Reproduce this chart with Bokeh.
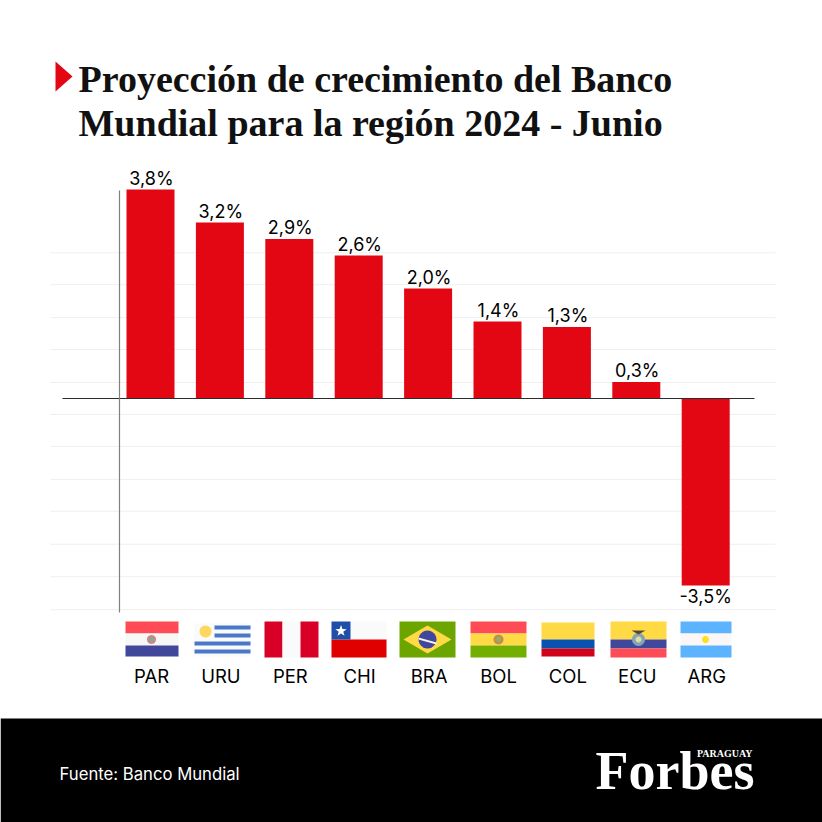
import math
from bokeh.plotting import figure
from bokeh.models import Label, Range1d
from bokeh.embed import file_html
from bokeh.resources import INLINE
from bokeh.core.properties import value

# ---- data ----
countries = ["PAR", "URU", "PER", "CHI", "BRA", "BOL", "COL", "ECU", "ARG"]
growth = [3.8, 3.2, 2.9, 2.6, 2.0, 1.4, 1.3, 0.3, -3.4]
value_labels = ["3,8%", "3,2%", "2,9%", "2,6%", "2,0%", "1,4%", "1,3%", "0,3%", "-3,5%"]
grid_values = [2.65, 2.07, 1.47, 0.89, 0.29, -0.29, -0.87, -1.47, -2.05, -2.65, -3.24, -3.84]
title_lines = ["Proyección de crecimiento del Banco", "Mundial para la región 2024 - Junio"]
source_text = "Fuente: Banco Mundial"

BODY = "Inter"
SERIF = "Liberation Serif"
W = H = 822
OFF = 0
PX_PER_UNIT = 55
PX_PER_CAT = 69.4
ZERO_Y = 398
FIRST_X = 150
BAR_W = 48


def X(px):  # page x -> data x
    return (px - FIRST_X) / PX_PER_CAT


def Y(py):  # page y -> data y
    return (ZERO_Y - py) / PX_PER_UNIT


p = figure(width=W, height=H, output_backend="svg", toolbar_location=None,
           x_range=Range1d(X(OFF), X(OFF + W)), y_range=Range1d(Y(OFF + H), Y(OFF)),
           min_border=0, outline_line_color=None, background_fill_color="white",
           border_fill_color="white")
p.axis.visible = False
p.grid.visible = False


def box(x0, y0, x1, y1, color):
    p.quad(left=X(x0), right=X(x1), top=Y(y0), bottom=Y(y1), fill_color=color, line_color=None)


def poly(pts, color):
    p.patch([X(a) for a, _ in pts], [Y(b) for _, b in pts], fill_color=color, line_color=None)


def dot(cx, cy, r, color):
    pts = [(cx + r * math.cos(t * math.pi / 12), cy + r * math.sin(t * math.pi / 12)) for t in range(24)]
    poly(pts, color)


def screen_text(text, x, y, size, color, font, style="normal", baseline="alphabetic", align="left"):
    p.add_layout(Label(x=x - OFF, y=H - (y - OFF), x_units="screen", y_units="screen", text=text,
                       text_font=font, text_font_size=f"{size}px", text_color=color,
                       text_font_style=style, text_baseline=baseline, text_align=align))


# grid, bars, axes
p.segment(x0=[X(50)] * len(grid_values), x1=[X(775)] * len(grid_values), y0=grid_values, y1=grid_values,
          line_color="#efefef", line_width=1)
idx = list(range(len(countries)))
p.vbar(x=idx, top=growth, bottom=0, width=BAR_W / PX_PER_CAT, fill_color="#e30613", line_color=None)
p.segment(x0=[X(62)], x1=[X(754)], y0=[0], y1=[0], line_color="#2b2b2b", line_width=1.2)
p.segment(x0=[X(119)], x1=[X(119)], y0=[Y(190)], y1=[Y(612)], line_color="#808080", line_width=1.2)

# value labels
pos = [i for i, v in enumerate(growth) if v >= 0]
neg = [i for i, v in enumerate(growth) if v < 0]
p.text(x=pos, y=[growth[i] for i in pos], text=[value_labels[i] for i in pos], text_align="center",
       text_baseline="bottom", y_offset=-1, x_offset=1, text_font=value(BODY), text_font_size="18px",
       text_color="#000000")
p.text(x=neg, y=[growth[i] for i in neg], text=[value_labels[i] for i in neg], text_align="center",
       text_baseline="top", y_offset=0, text_font=value(BODY), text_font_size="18px", text_color="#000000")

# category labels
p.text(x=idx, y=[Y(675)] * len(idx), text=countries, text_align="center", text_baseline="middle", x_offset=1,
       text_font=value(BODY), text_font_size="18.5px", text_color="#000000")

# flags
RED, BLUE, WHITE, YEL, GRN = "#ff4b55", "#41479b", "#f7f7f7", "#ffda44", "#73af00"
# PAR
box(125, 621, 178, 633, RED); box(125, 633, 178, 645, WHITE); box(125, 645, 178, 656, BLUE)
dot(151, 639, 4.5, "#d9808a"); dot(151, 639, 2.5, "#7fae8f")
# URU
box(194, 623, 250, 656, "#fafafa")
for a, b in [(625, 629), (633, 637)]:
    box(214, a, 250, b, "#4a78c8")
for a, b in [(641, 645), (649, 653)]:
    box(194, a, 250, b, "#4a78c8")
dot(205, 631, 6, "#ffd75e")
# PER
box(264, 621, 282, 657, "#d80027"); box(282, 621, 300, 657, "#fafafa"); box(300, 621, 318, 657, "#d80027")
# CHI
box(350, 621, 386, 639, "#fafafa"); box(331, 639, 386, 657, "#e00000"); box(331, 621, 350, 639, "#1f4fa8")
star = [(340.5 + (r * math.sin(i * math.pi / 5)), 630.5 - (r * math.cos(i * math.pi / 5)))
        for i, r in enumerate([6, 2.4] * 5)]
poly(star, "white")
# BRA
box(399, 621, 455, 657, "#6da500")
poly([(403, 639), (427, 625), (451, 639), (427, 653)], YEL)
dot(427, 639, 9, "#41479b")
poly([(418, 637), (436, 642), (436, 644), (418, 639)], "#f5f5f5")
# BOL
box(470, 621, 526, 633, RED); box(470, 633, 526, 645, YEL); box(470, 645, 526, 657, GRN)
dot(498, 639, 5, "#c98a4e"); dot(498, 639, 2.5, "#8fae6a")
# COL
box(541, 622, 594, 639, YEL); box(541, 639, 594, 648, "#0a52b0"); box(541, 648, 594, 656, "#d0021b")
# ECU
box(610, 621, 666, 639, YEL); box(610, 639, 666, 648, BLUE); box(610, 648, 666, 657, RED)
dot(638, 639, 6.5, "#7fa6b8"); dot(638, 639, 3, "#e8d9a0")
poly([(631, 630), (645, 630), (638, 634)], "#5a4632")
# ARG
box(680, 621, 731, 633, "#5cb3ff"); box(680, 633, 731, 645, "#fbf7f7"); box(680, 645, 731, 657, "#5cb3ff")
dot(705, 639, 3.5, "#ffe01a")

# footer
box(OFF, 718, OFF + W, OFF + H, "#000000")
screen_text(source_text, 59, 773, 16.7, "white", BODY, baseline="middle")
screen_text("Forbes", 595, 770, 54, "white", SERIF, style="bold")
screen_text("PARAGUAY", 752, 753, 10, "white", SERIF, style="bold", align="right")

# title
poly([(55, 61), (72, 76), (55, 91)], "#e30613")
screen_text(title_lines[0], 78, 78, 38, "#111111", SERIF, style="bold")
screen_text(title_lines[1], 78, 122, 38, "#111111", SERIF, style="bold")

open("out.html", "w").write(file_html(p, INLINE))
